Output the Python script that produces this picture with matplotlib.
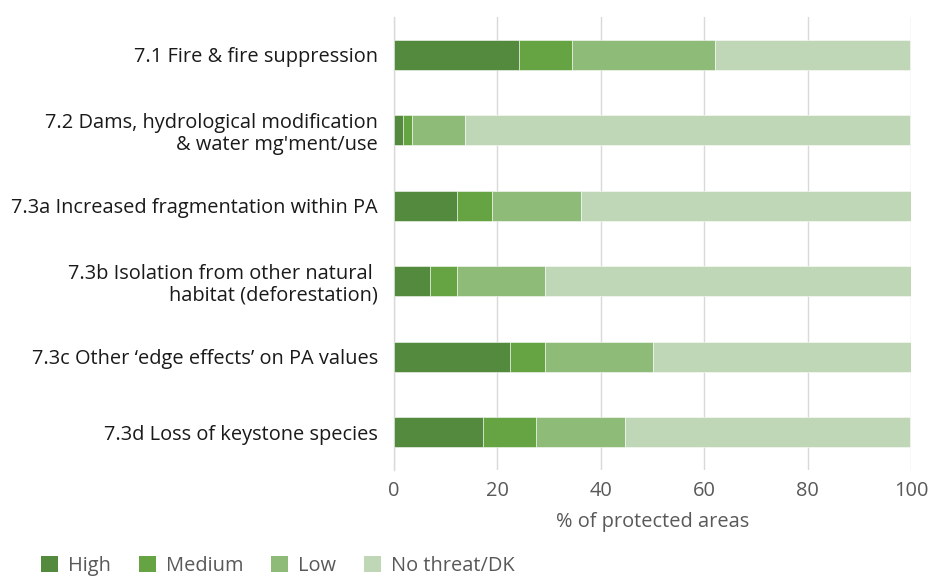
import matplotlib
matplotlib.use("Agg")
import matplotlib.pyplot as plt
from matplotlib.patches import Patch
import numpy as np

plt.rcParams['font.family'] = ['Open Sans', 'DejaVu Sans']

categories = [
    "7.1 Fire & fire suppression",
    "7.2 Dams, hydrological modification\n& water mg'ment/use",
    "7.3a Increased fragmentation within PA",
    "7.3b Isolation from other natural \nhabitat (deforestation)",
    "7.3c Other \u2018edge effects\u2019 on PA values",
    "7.3d Loss of keystone species",
]
series_names = ["High", "Medium", "Low", "No threat/DK"]
high = [24.1, 1.7, 12.1, 6.9, 22.4, 17.2]
medium = [10.3, 1.7, 6.9, 5.2, 6.9, 10.3]
low = [27.6, 10.3, 17.2, 17.2, 20.7, 17.2]
no_threat = [37.9, 86.2, 63.8, 70.7, 50.0, 55.2]
colors = ["#548a3d", "#66a343", "#8fbb79", "#bfd7b7"]
xticks = [0, 20, 40, 60, 80, 100]

FS = 14.4

fig = plt.figure(figsize=(9.34, 5.77), dpi=100)
ax = fig.add_axes([394 / 934, 1 - 470 / 577, 517 / 934, 453 / 577])

y = np.arange(len(categories))
left = np.zeros(len(categories))
for vals, col, name in zip([high, medium, low, no_threat], colors, series_names):
    ax.barh(y, vals, left=left, height=0.4, color=col, edgecolor=(1, 1, 1, 0.6),
            linewidth=0.6, label=name, zorder=3)
    left += np.array(vals)

ax.set_xlim(0, 100)
ax.set_ylim(len(categories) - 0.5, -0.5)
ax.set_yticks(y)
ax.set_yticklabels(categories, fontsize=FS, color="#1a1a1a", linespacing=1.12)
ax.set_xticks(xticks)
ax.set_xticklabels([str(t) for t in xticks], fontsize=FS, color="#595959")
ax.tick_params(axis="x", length=0, pad=8)
ax.tick_params(axis="y", length=0, pad=11.5)
ax.grid(axis="x", color="#d9d9d9", linewidth=1, zorder=0)
for s in ["top", "right", "bottom"]:
    ax.spines[s].set_visible(False)
ax.spines["left"].set_color("#d9d9d9")
ax.spines["left"].set_linewidth(1)
ax.set_xlabel("% of protected areas", fontsize=FS, color="#595959", labelpad=8)

handles = [Patch(facecolor=c, edgecolor="none", label=n) for c, n in zip(colors, series_names)]
fig.legend(handles=handles, loc="upper left", bbox_to_anchor=(41 / 934, 1 - 556 / 577),
           ncol=4, frameon=False, fontsize=FS, labelcolor="#595959",
           borderpad=0, borderaxespad=0,
           handlelength=0.85, handleheight=0.85, handletextpad=0.5, columnspacing=1.4)

fig.savefig("out.png", dpi=100)
